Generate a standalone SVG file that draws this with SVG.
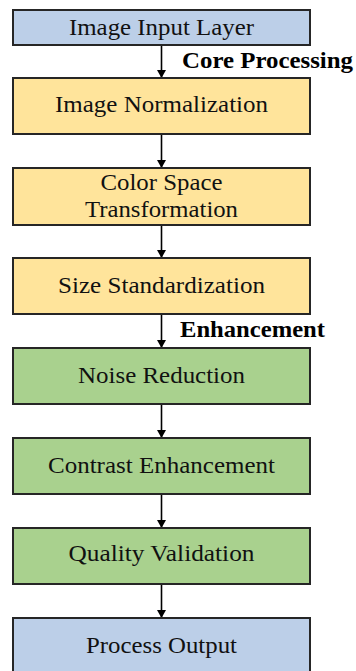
<svg xmlns="http://www.w3.org/2000/svg" width="356" height="671" viewBox="0 0 356 671">
  <defs>
    <marker id="arrowhead" markerWidth="8" markerHeight="9" refX="8" refY="4.5" orient="auto" markerUnits="userSpaceOnUse">
      <path d="M0,0 L8,4.5 L0,9 Z" fill="#000"/>
    </marker>
    <style>
      .box { stroke: #262626; stroke-width: 2; }
      .io { fill: #BCCFE8; }
      .core { fill: #FFE49B; }
      .enh { fill: #A9D18E; }
      .label { font-family: "Liberation Serif", serif; font-size: 23px; fill: #111; text-anchor: middle; }
      .stage { font-family: "Liberation Serif", serif; font-size: 23px; font-weight: bold; fill: #000; }
      .edge { stroke: #000; stroke-width: 1.6; fill: none; marker-end: url(#arrowhead); }
    </style>
  </defs>

  <rect width="356" height="671" fill="#fff"/>

  <g id="connectors">
    <line class="edge" x1="161.5" y1="45" x2="161.5" y2="78"/>
    <line class="edge" x1="161.5" y1="134" x2="161.5" y2="168"/>
    <line class="edge" x1="161.5" y1="225" x2="161.5" y2="258"/>
    <line class="edge" x1="161.5" y1="314" x2="161.5" y2="348"/>
    <line class="edge" x1="161.5" y1="404" x2="161.5" y2="438"/>
    <line class="edge" x1="161.5" y1="494" x2="161.5" y2="528"/>
    <line class="edge" x1="161.5" y1="584" x2="161.5" y2="618"/>
  </g>

  <g id="stage-labels">
    <text class="stage" x="182" y="68" textLength="171" lengthAdjust="spacingAndGlyphs">Core Processing</text>
    <text class="stage" x="180" y="337" textLength="145" lengthAdjust="spacingAndGlyphs">Enhancement</text>
  </g>

  <g id="image-input">
    <rect class="box io" x="13" y="10" width="297" height="35"/>
    <text class="label" x="161.5" y="35" textLength="185" lengthAdjust="spacingAndGlyphs">Image Input Layer</text>
  </g>

  <g id="image-normalization">
    <rect class="box core" x="13" y="78" width="297" height="56"/>
    <text class="label" x="161.5" y="112" textLength="213" lengthAdjust="spacingAndGlyphs">Image Normalization</text>
  </g>

  <g id="color-space">
    <rect class="box core" x="13" y="168" width="297" height="57"/>
    <text class="label" x="161.5" y="190" textLength="122" lengthAdjust="spacingAndGlyphs">Color Space</text>
    <text class="label" x="161.5" y="217" textLength="153" lengthAdjust="spacingAndGlyphs">Transformation</text>
  </g>

  <g id="size-standardization">
    <rect class="box core" x="13" y="258" width="297" height="56"/>
    <text class="label" x="161.5" y="293" textLength="207" lengthAdjust="spacingAndGlyphs">Size Standardization</text>
  </g>

  <g id="noise-reduction">
    <rect class="box enh" x="13" y="348" width="297" height="56"/>
    <text class="label" x="161.5" y="383" textLength="167" lengthAdjust="spacingAndGlyphs">Noise Reduction</text>
  </g>

  <g id="contrast-enhancement">
    <rect class="box enh" x="13" y="438" width="297" height="56"/>
    <text class="label" x="161.5" y="473" textLength="227" lengthAdjust="spacingAndGlyphs">Contrast Enhancement</text>
  </g>

  <g id="quality-validation">
    <rect class="box enh" x="13" y="528" width="297" height="56"/>
    <text class="label" x="161.5" y="561" textLength="186" lengthAdjust="spacingAndGlyphs">Quality Validation</text>
  </g>

  <g id="process-output">
    <rect class="box io" x="13" y="618" width="297" height="56"/>
    <text class="label" x="161.5" y="653" textLength="151" lengthAdjust="spacingAndGlyphs">Process Output</text>
  </g>
</svg>
